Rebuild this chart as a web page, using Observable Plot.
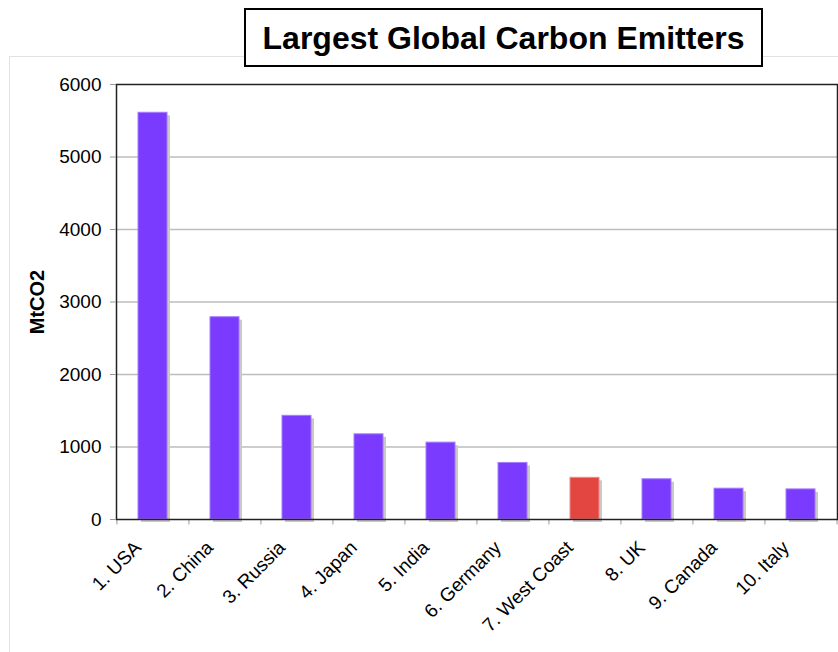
<!DOCTYPE html>
<html><head><meta charset="utf-8">
<script src="https://cdn.jsdelivr.net/npm/d3@7"></script>
<script src="https://cdn.jsdelivr.net/npm/@observablehq/plot@0.6"></script>
<style>
body{margin:0;background:#fff;font-family:"Liberation Sans",Arial,sans-serif;}
#wrap{position:relative;width:838px;height:652px;overflow:hidden;}
#outer{position:absolute;left:9px;top:56px;width:900px;height:700px;border:1px solid #e2e2e2;box-sizing:border-box;}
#title{position:absolute;left:244px;top:8px;width:519px;height:59px;border:2px solid #000;box-sizing:border-box;background:#fff;
 font:bold 32px "Liberation Sans",Arial,sans-serif;text-align:center;line-height:56px;z-index:2;white-space:nowrap;}
#chart{position:absolute;left:0;top:0;}
</style></head>
<body><div id="wrap"><div id="outer"></div><div id="chart"></div><div id="title">Largest Global Carbon Emitters</div></div>
<script>
const categories = ["1. USA","2. China","3. Russia","4. Japan","5. India","6. Germany","7. West Coast","8. UK","9. Canada","10. Italy"];
const values = [5610, 2790, 1430, 1175, 1060, 780, 575, 555, 425, 415];
const highlight = "7. West Coast";
const yTicks = [0,1000,2000,3000,4000,5000,6000];

const data = categories.map((c,i)=>({cat:c, v:values[i]}));
const W=838,H=652,mL=116,mR=1,mT=84,mB=133;
const bw=(W-mL-mR)/categories.length;
const FONT='"Liberation Sans",Arial,sans-serif';
const chart = Plot.plot({
  width:W,height:H,marginLeft:mL,marginRight:mR,marginTop:mT,marginBottom:mB,
  style:{fontFamily:FONT,fontSize:"19px",background:"transparent",overflow:"visible"},
  x:{domain:categories,paddingInner:0.6,paddingOuter:0.3,label:null,axis:null},
  y:{domain:[0,6000],ticks:yTicks,label:null,axis:null},
  marks:[
    Plot.ruleY(yTicks.slice(1,-1),{stroke:"#bdbdbd",strokeWidth:1.3}),
    Plot.barY(data,{x:"cat",y:"v",fill:"#c9c9c9",dx:3,dy:3}),
    Plot.barY(data,{x:"cat",y:"v",fill:d=>d.cat===highlight?"#e34541":"#7a3bff",stroke:d=>d.cat===highlight?"#f08a86":"#a47cff",strokeWidth:1}),
    Plot.ruleX(categories,{x:d=>d,dx:-bw/2,y1:0,y2:-75,stroke:"#999"}),
    Plot.ruleX([categories[categories.length-1]],{x:d=>d,dx:bw/2,y1:0,y2:-75,stroke:"#999"}),
    Plot.frame({stroke:"#222",strokeWidth:1.5}),
    Plot.axisY({ticks:yTicks,tickSize:6,tickFormat:d=>String(d),fontSize:19,tickPadding:9,stroke:"#999",fill:"#000",label:null}),
    Plot.text(categories,{x:d=>d,y:0,text:d=>d,rotate:-45,textAnchor:"end",dx:-15,dy:25,fontSize:19,fill:"#000"}),
    Plot.text(["MtCO2"],{frameAnchor:"left",textAnchor:"middle",dx:-79,dy:0,rotate:-90,fontWeight:"bold",fontSize:20,fill:"#000"})
  ]
});
document.getElementById("chart").appendChild(chart);
</script></body></html>
